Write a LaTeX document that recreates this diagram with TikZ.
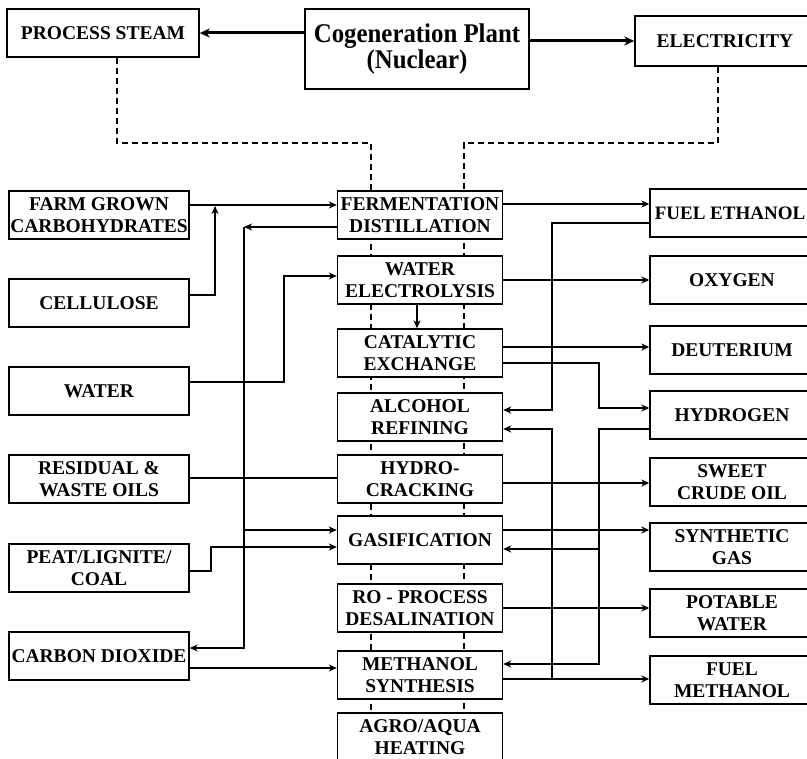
\documentclass[tikz,border=0pt]{standalone}
\usepackage{fontspec}
\setmainfont{Liberation Serif}
\newfontfamily\titlefont[FakeStretch=0.92]{Liberation Serif}
\usetikzlibrary{arrows.meta,backgrounds}
\tikzset{
    blk/.style={draw=black,line width=1.4pt,fill=white,inner sep=0pt,align=center,
        minimum height=48pt,font=\bfseries\fontsize{19.5}{22}\selectfont},
    inblk/.style={blk,minimum width=180pt},
    midblk/.style={blk,minimum width=165pt},
    outblk/.style={blk,minimum width=164pt},
    lnk/.style={line width=1.2pt,-{Stealth[length=8pt,width=7pt,inset=2.5pt]}},
    bold link/.style={line width=3pt,-{Stealth[length=10pt,width=9pt,inset=3pt]}},
    dsh/.style={line width=1.2pt,dash pattern=on 6pt off 4pt}
}
\begin{document}
\begin{tikzpicture}[x=1pt,y=-1pt]
    \useasboundingbox (0,0) rectangle (807,759);
    \node[blk,minimum width=192pt] (steam) at (103,33) {PROCESS STEAM};
    \node[blk,minimum width=224pt,minimum height=80pt,
        font=\titlefont\bfseries\fontsize{27}{26}\selectfont] (plant) at (417,49) {Cogeneration Plant\\(Nuclear)};
    \node[blk,minimum width=180pt,minimum height=50pt] (elec) at (725,41) {ELECTRICITY};
    \node[inblk] (farm) at (99,215) {FARM GROWN\\CARBOHYDRATES};
    \node[inblk] (cell) at (99,303) {CELLULOSE};
    \node[inblk] (water) at (99,391) {WATER};
    \node[inblk] (resid) at (99,479) {RESIDUAL \&\\WASTE OILS};
    \node[inblk] (peat) at (99,568) {PEAT/LIGNITE/\\COAL};
    \node[inblk] (co2) at (99,656) {CARBON DIOXIDE};
    \node[midblk] (ferm) at (420,215) {FERMENTATION\\DISTILLATION};
    \node[midblk] (elyz) at (420,280) {WATER\\ELECTROLYSIS};
    \node[midblk] (cat) at (420,353) {CATALYTIC\\EXCHANGE};
    \node[midblk] (alc) at (420,417) {ALCOHOL\\REFINING};
    \node[midblk] (hc) at (420,479) {HYDRO-\\CRACKING};
    \node[midblk] (gas) at (420,540) {GASIFICATION};
    \node[midblk] (ro) at (420,608) {RO - PROCESS\\DESALINATION};
    \node[midblk] (meth) at (420,675) {METHANOL\\SYNTHESIS};
    \node[midblk] (agro) at (420,737) {AGRO/AQUA\\HEATING};
    \node[outblk,minimum width=160pt,font=\bfseries\fontsize{19}{22}\selectfont] (fe) at (730,213) {FUEL ETHANOL};
    \node[outblk] (oxy) at (732,280) {OXYGEN};
    \node[outblk] (deut) at (732,350) {DEUTERIUM};
    \node[outblk] (hyd) at (732,415) {HYDROGEN};
    \node[outblk] (crude) at (732,482) {SWEET\\CRUDE OIL};
    \node[outblk] (syn) at (732,547) {SYNTHETIC\\GAS};
    \node[outblk] (pot) at (732,613) {POTABLE\\WATER};
    \node[outblk] (fmeth) at (732,680) {FUEL\\METHANOL};
    \coordinate (dl) at (371,143);
    \coordinate (dr) at (464,143);
    \coordinate (cbus) at (244,227);
    \coordinate (hbus) at (599,549);
    \coordinate (mbus) at (552,679);
    \begin{scope}[on background layer]
        \draw[dsh] ([xshift=14pt]steam.south) |- (dl) -- (dl |- agro.north);
        \draw[dsh] ([xshift=-7pt]elec.south) |- (dr) -- (dr |- agro.north);
    \end{scope}
    \draw[bold link] (plant.west |- steam.east) -- (steam.east);
    \draw[bold link] (plant.east |- elec.west) -- (elec.west);
    \draw[lnk] (farm.east |- 0,205) -- (ferm.west |- 0,205);
    \draw[lnk] (cell.east |- 0,295) -| (215,206);
    \draw[lnk] (ferm.west |- cbus) -- (cbus);
    \draw[lnk] (cbus) |- (co2.east |- 0,648);
    \draw[lnk] (cbus |- 0,530) -- (gas.west |- 0,530);
    \draw[lnk] (water.east |- 0,382) -| (284,276) -- (elyz.west |- 0,276);
    \draw[lnk] (elyz.south -| 417,0) -- (cat.north -| 417,0);
    \draw[line width=1.2pt] (resid.east |- 0,478) -- (hc.west |- 0,478);
    \draw[lnk] (peat.east |- 0,571) -| (211,547) -- (gas.west |- 0,547);
    \draw[lnk] (co2.east |- 0,668) -- (meth.west |- 0,668);
    \draw[lnk] (ferm.east |- 0,204) -- (fe.west |- 0,204);
    \draw[lnk] (fe.west |- 0,223) -| (552,410) -- (alc.east |- 0,410);
    \draw[lnk] (elyz.east |- 0,280) -- (oxy.west |- 0,280);
    \draw[lnk] (cat.east |- 0,347) -- (deut.west |- 0,347);
    \draw[lnk] (cat.east |- 0,363) -| (599,408) -- (hyd.west |- 0,408);
    \draw[lnk] (hyd.west |- 0,429) -| (599,664) -- (meth.east |- 0,664);
    \draw[lnk] (hbus) -- (gas.east |- hbus);
    \draw[lnk] (hc.east |- 0,483) -- (crude.west |- 0,483);
    \draw[lnk] (gas.east |- 0,530) -- (syn.west |- 0,530);
    \draw[lnk] (ro.east |- 0,608) -- (pot.west |- 0,608);
    \draw[lnk] (meth.east |- mbus) -- (fmeth.west |- mbus);
    \draw[lnk] (mbus) |- (alc.east |- 0,429);
\end{tikzpicture}
\end{document}
